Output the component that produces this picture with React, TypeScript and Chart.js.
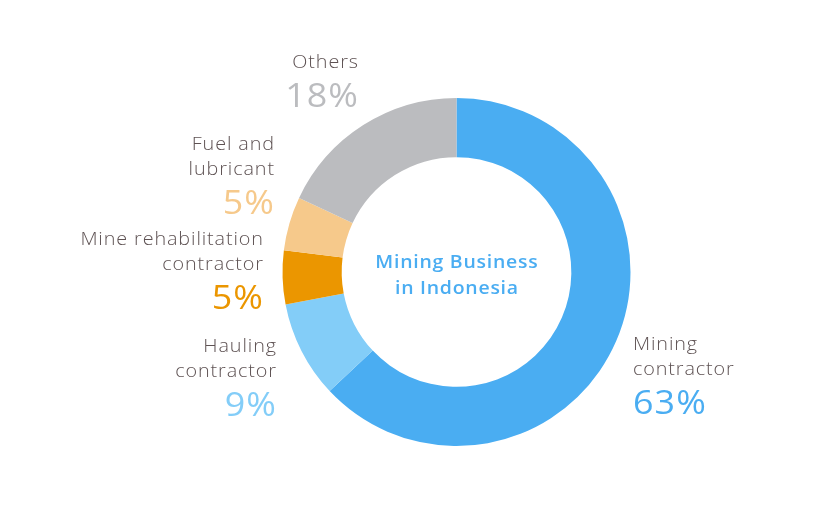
import React, { useEffect, useRef } from "react";
import { Chart, registerables } from "chart.js";

Chart.register(...registerables);

const categories = ["Mining contractor", "Hauling contractor", "Mine rehabilitation contractor", "Fuel and lubricant", "Others"];
const shares = [63, 9, 5, 5, 18];
const colors = ["#4AADF2", "#83CDF8", "#EB9600", "#F6C98B", "#BBBCBF"];
const labelLines = [["Mining", "contractor"], ["Hauling", "contractor"], ["Mine rehabilitation", "contractor"], ["Fuel and", "lubricant"], ["Others"]];
const centerLines = ["Mining Business", "in Indonesia"];

const labelAnchors = [
  { x: 633, align: "left", y: 345 },
  { x: 276, align: "right", y: 347 },
  { x: 263, align: "right", y: 240 },
  { x: 274, align: "right", y: 145 },
  { x: 358, align: "right", y: 63 },
];

const FONT = "'Open Sans', 'Noto Sans', sans-serif";
const LABEL_COLOR = "#5E5253";

function drawText(ctx: any, text: string, x: number, y: number, align: string, sx: number, spacing: number) {
  ctx.save();
  ctx.letterSpacing = `${spacing}px`;
  ctx.textAlign = align;
  const shift = align === "right" ? spacing * sx : align === "center" ? (spacing * sx) / 2 : 0;
  ctx.translate(x + shift, y);
  ctx.scale(sx, 1);
  ctx.fillText(text, 0, 0);
  ctx.restore();
}

const labelsPlugin = {
  id: "outerLabels",
  afterDraw(chart: any) {
    const ctx = chart.ctx;
    ctx.save();
    ctx.textBaseline = "middle";
    labelLines.forEach((lines, i) => {
      const a = labelAnchors[i];
      ctx.fillStyle = LABEL_COLOR;
      ctx.font = `300 18px ${FONT}`;
      lines.forEach((t, j) => drawText(ctx, t, a.x, a.y + j * 25, a.align, 1.1, 0.8));
      ctx.fillStyle = colors[i];
      ctx.font = `500 32px ${FONT}`;
      drawText(ctx, `${shares[i]}%`, a.x, a.y + lines.length * 25 + 10, a.align, 1.12, 1);
    });
    const meta = chart.getDatasetMeta(0);
    const arc = meta.data[0];
    ctx.fillStyle = colors[0];
    ctx.font = `600 18px ${FONT}`;
    drawText(ctx, centerLines[0], arc.x, arc.y - 9, "center", 1.08, 0.7);
    drawText(ctx, centerLines[1], arc.x, arc.y + 17, "center", 1.08, 0.7);
    ctx.restore();
  },
};

export default function App() {
  const ref = useRef<HTMLCanvasElement>(null);
  useEffect(() => {
    const chart = new Chart(ref.current!, {
      type: "doughnut",
      data: {
        labels: categories,
        datasets: [{ data: shares, backgroundColor: colors, borderWidth: 0 }],
      },
      options: {
        animation: false,
        responsive: false,
        cutout: "66%",
        layout: { padding: { top: 98, bottom: 71, left: 282, right: 207 } },
        plugins: { legend: { display: false }, tooltip: { enabled: false } },
      },
      plugins: [labelsPlugin],
    } as any);
    return () => chart.destroy();
  }, []);
  return (
    <div style={{ position: "fixed", left: 0, top: 0, width: 838, height: 517, background: "#fff" }}>
      <canvas ref={ref} width={838} height={517} style={{ width: 838, height: 517 }} />
    </div>
  );
}
